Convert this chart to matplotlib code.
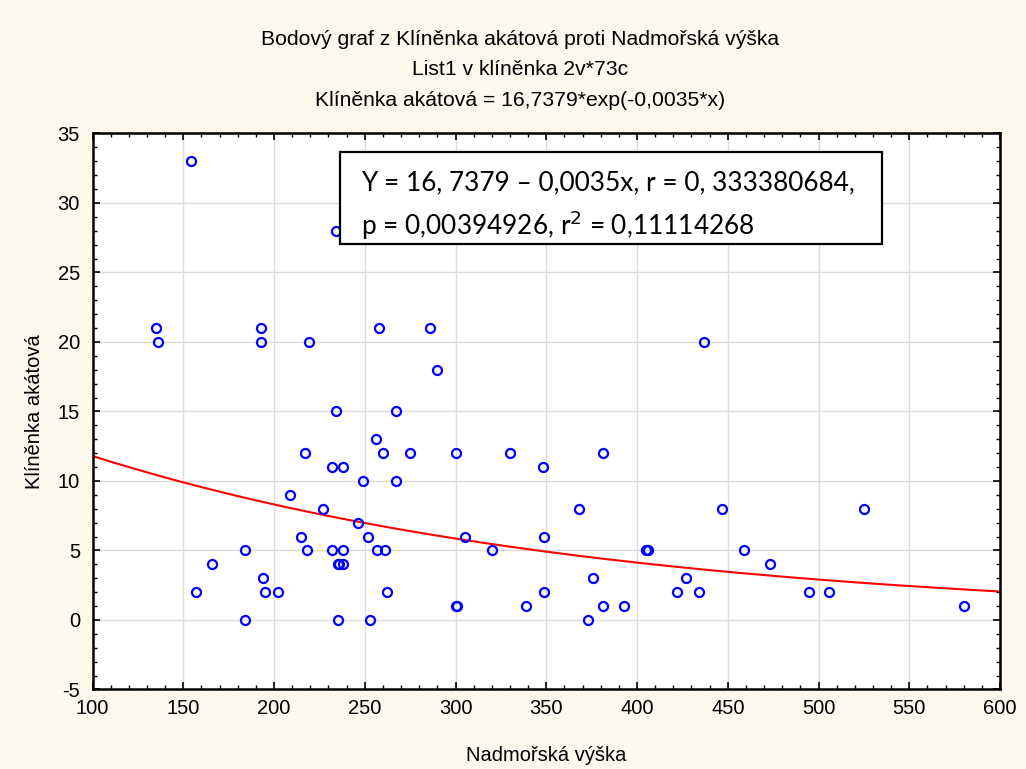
import numpy as np
import matplotlib.pyplot as plt
from matplotlib.patches import Rectangle
from matplotlib.ticker import MultipleLocator

# data
vyska = [154, 234, 135, 136, 193, 193, 219, 258, 286, 437, 290, 234, 267, 256,
         217, 260, 275, 300, 330, 381, 232, 238, 348, 249, 267, 209, 227, 368,
         447, 525, 246, 215, 252, 305, 349, 184, 218, 232, 238, 257, 261, 320,
         405, 406, 459, 166, 235, 236, 238, 473, 194, 376, 427, 157, 195, 202,
         262, 349, 422, 434, 495, 506, 300, 301, 339, 381, 393, 580, 184, 235,
         253, 373]
klinenka = [33, 28, 21, 20, 21, 20, 20, 21, 21, 20, 18, 15, 15, 13,
            12, 12, 12, 12, 12, 12, 11, 11, 11, 10, 10, 9, 8, 8,
            8, 8, 7, 6, 6, 6, 6, 5, 5, 5, 5, 5, 5, 5,
            5, 5, 5, 4, 4, 4, 4, 4, 3, 3, 3, 2, 2, 2,
            2, 2, 2, 2, 2, 2, 1, 1, 1, 1, 1, 1, 0, 0,
            0, 0]

# fitted model from the title: y = a*exp(b*x)
a_fit = 16.7379
b_fit = -0.0035

plt.rcParams['font.family'] = 'Liberation Sans'
plt.rcParams['axes.unicode_minus'] = False
fs = 14.5

fig = plt.figure(figsize=(10.26, 7.69), dpi=100, facecolor='#fdf8ec')
ax = fig.add_axes([0.0902, 0.1034, 0.8845, 0.7230])
ax.set_facecolor('white')

xx = np.linspace(100, 600, 300)
ax.plot(xx, a_fit * np.exp(b_fit * xx), color='red', lw=1.5, zorder=2)
ax.plot(vyska, klinenka, linestyle='none', marker='o', markersize=6.5,
        markerfacecolor='none', markeredgecolor='#0000ff', markeredgewidth=1.6, zorder=3)

ax.set_xlim(100, 600)
ax.set_ylim(-5, 35)
ax.xaxis.set_major_locator(MultipleLocator(50))
ax.xaxis.set_minor_locator(MultipleLocator(10))
ax.yaxis.set_major_locator(MultipleLocator(5))
ax.yaxis.set_minor_locator(MultipleLocator(1))
ax.grid(True, which='major', color='#dcdcdc', lw=1)
ax.set_axisbelow(True)
ax.tick_params(which='both', direction='in', top=True, right=True, labelsize=fs)
ax.tick_params(axis='x', pad=7)
ax.tick_params(axis='y', pad=9)
ax.tick_params(which='major', length=5, width=1.2)
ax.tick_params(which='minor', length=3, width=1)
for s in ax.spines.values():
    s.set_linewidth(1.8)

ax.set_xlabel('Nadmořská výška', fontsize=fs, labelpad=20)
ax.set_ylabel('Klíněnka akátová', fontsize=fs, labelpad=10)

fs_t = 15.2
fig.text(0.507, 0.949, 'Bodový graf z Klíněnka akátová proti Nadmořská výška', ha='center', va='center', fontsize=fs_t)
fig.text(0.507, 0.909, 'List1 v klíněnka 2v*73c', ha='center', va='center', fontsize=fs_t)
fig.text(0.507, 0.869, 'Klíněnka akátová = 16,7379*exp(-0,0035*x)', ha='center', va='center', fontsize=fs_t)

# regression info box
ax.add_patch(Rectangle((0.2727, 0.8013), 0.5972, 0.1655, transform=ax.transAxes,
                       facecolor='white', edgecolor='black', lw=1.6, zorder=5))
ax.text(0.2959, 0.911, 'Y = 16, 7379 – 0,0035x, r = 0, 333380684,', transform=ax.transAxes,
        fontsize=18.9, family='Lato', va='center', ha='left', zorder=6)
ax.text(0.2959, 0.8354, 'p = 0,00394926, r$^2$ = 0,11114268', transform=ax.transAxes,
        fontsize=18.9, family='Lato', va='center', ha='left', zorder=6)

fig.savefig('out.png', dpi=100, facecolor=fig.get_facecolor())
